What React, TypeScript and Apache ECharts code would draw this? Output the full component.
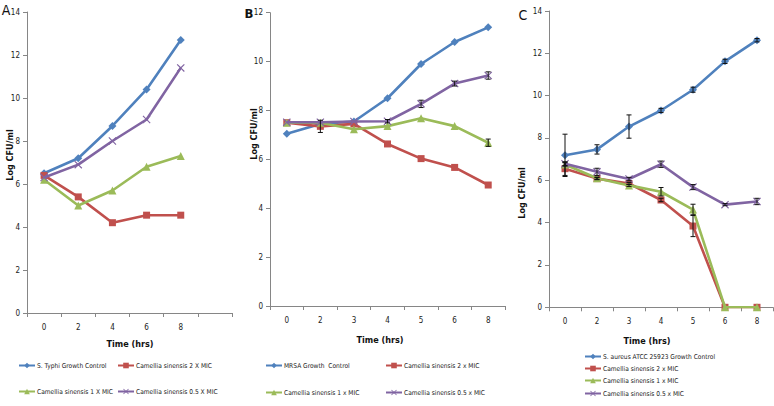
import React, { useEffect, useRef } from "react";
import * as echarts from "echarts";

// ---------- data ----------
const timesA = ["0", "2", "4", "6", "8", ""];
const typhiControl = [6.5, 7.2, 8.7, 10.4, 12.7];
const typhi2x = [6.4, 5.4, 4.2, 4.55, 4.55];
const typhi1x = [6.2, 5.0, 5.7, 6.8, 7.3];
const typhi05x = [6.3, 6.9, 8.0, 9.0, 11.4];

const timesB = ["0", "2", "3", "4", "5", "6", "8"];
const mrsaControl = [7.05, 7.45, 7.55, 8.5, 9.9, 10.8, 11.4];
const mrsa2x = [7.5, 7.35, 7.45, 6.63, 6.03, 5.67, 4.95];
const mrsa1x = [7.5, 7.5, 7.23, 7.36, 7.68, 7.36, 6.68];
const mrsa05x = [7.52, 7.52, 7.55, 7.56, 8.27, 9.1, 9.43];
const mrsaControlErr = [0, 0, 0, 0, 0, 0, 0];
const mrsa2xErr = [0, 0.25, 0, 0, 0, 0, 0];
const mrsa1xErr = [0, 0, 0, 0, 0, 0, 0.15];
const mrsa05xErr = [0, 0, 0, 0.07, 0.15, 0.1, 0.15];

const timesC = ["0", "2", "3", "4", "5", "6", "8"];
const saControl = [7.18, 7.46, 8.54, 9.3, 10.28, 11.62, 12.62];
const sa2x = [6.55, 6.08, 5.85, 5.07, 3.84, 0, 0];
const sa1x = [6.75, 6.1, 5.76, 5.46, 4.62, 0, 0];
const sa05x = [6.78, 6.4, 6.06, 6.76, 5.68, 4.85, 5.0];
const saControlErr = [1.0, 0.22, 0.55, 0.1, 0.12, 0.1, 0.08];
const sa2xErr = [0.32, 0.05, 0.05, 0.08, 0.5, 0, 0];
const sa1xErr = [0.08, 0.05, 0.05, 0.2, 0.25, 0, 0];
const sa05xErr = [0.08, 0.17, 0.08, 0.15, 0.12, 0.05, 0.15];

const namesA = [
  "S. Typhi Growth Control",
  "Camellia sinensis 2 X MIC",
  "Camellia sinensis 1 X MIC",
  "Camellia sinensis 0.5 X MIC",
];
const namesB = [
  "MRSA Growth  Control",
  "Camellia sinensis 2 x MIC",
  "Camellia sinensis 1 x MIC",
  "Camellia sinensis 0.5 x MIC",
];
const namesC = [
  "S. aureus ATCC 25923 Growth Control",
  "Camellia sinensis 2 x MIC",
  "Camellia sinensis 1 x MIC",
  "Camellia sinensis 0.5 x MIC",
];

// ---------- style ----------
const COLORS = ["#4F81BD", "#C0504D", "#9BBB59", "#8064A2"];
const XSYM =
  "path://M0,1 L1,0 L5,4 L9,0 L10,1 L6,5 L10,9 L9,10 L5,6 L1,10 L0,9 L4,5 Z";
const SYMBOLS = ["diamond", "rect", "triangle", XSYM];
const SYMSIZE = [8, 7, 8, 8];
const FONT = "'Liberation Sans Narrow', 'DejaVu Sans Condensed', 'Liberation Sans', sans-serif";
const AXIS_COLOR = "#868686";

function lineSeries(name: string, data: number[], k: number, idx: number) {
  return {
    type: "line",
    name,
    data,
    xAxisIndex: idx,
    yAxisIndex: idx,
    symbol: SYMBOLS[k],
    symbolSize: SYMSIZE[k],
    lineStyle: { color: COLORS[k], width: 2.6 },
    itemStyle: { color: COLORS[k] },
    z: 2 + k,
  };
}

function errSeries(vals: number[], errs: number[], idx: number) {
  const data: number[][] = [];
  vals.forEach((v, i) => {
    if (errs[i] > 0) data.push([i, v - errs[i], v + errs[i]]);
  });
  return {
    type: "custom",
    xAxisIndex: idx,
    yAxisIndex: idx,
    z: 10,
    silent: true,
    encode: { x: 0, y: [1, 2] },
    data,
    renderItem: (params: any, api: any) => {
      const x = api.value(0);
      const lo = api.coord([x, api.value(1)]);
      const hi = api.coord([x, api.value(2)]);
      const w = 2.5;
      const st = { stroke: "#111", lineWidth: 1 };
      return {
        type: "group",
        children: [
          { type: "line", shape: { x1: lo[0], y1: lo[1], x2: hi[0], y2: hi[1] }, style: st },
          { type: "line", shape: { x1: lo[0] - w, y1: lo[1], x2: lo[0] + w, y2: lo[1] }, style: st },
          { type: "line", shape: { x1: hi[0] - w, y1: hi[1], x2: hi[0] + w, y2: hi[1] }, style: st },
        ],
      };
    },
  };
}

function xAxis(cats: string[], idx: number) {
  return {
    type: "category",
    gridIndex: idx,
    data: cats,
    boundaryGap: true,
    axisLine: { lineStyle: { color: AXIS_COLOR, width: 1 } },
    axisTick: { show: true, length: 4, inside: false, lineStyle: { color: AXIS_COLOR } },
    axisLabel: { color: "#222", fontSize: 8, fontFamily: FONT, margin: 10 },
    splitLine: { show: false },
  };
}

function yAxis(max: number, idx: number) {
  return {
    type: "value",
    gridIndex: idx,
    min: 0,
    max,
    interval: 2,
    axisLine: { show: true, lineStyle: { color: AXIS_COLOR, width: 1 } },
    axisTick: { show: true, length: 4, lineStyle: { color: AXIS_COLOR } },
    axisLabel: { color: "#222", fontSize: 8, fontFamily: FONT, margin: 7 },
    splitLine: { show: false },
  };
}

function legendItem(name: string, left: number, top: number) {
  return {
    data: [name],
    left,
    top,
    padding: 0,
    itemWidth: 16,
    itemHeight: 7,
    itemGap: 0,
    selectedMode: false,
    textStyle: { fontSize: 6.6, fontFamily: FONT, color: "#222", padding: [0, 0, 0, -3] },
  };
}

function txt(text: string, x: number, y: number, size: number, bold: boolean, rot = 0) {
  return {
    type: "text",
    x,
    y,
    rotation: rot,
    style: {
      text,
      font: `${bold ? "bold " : ""}${size}px ${FONT}`,
      fill: "#111",
      textAlign: "center",
      textVerticalAlign: "middle",
    },
  };
}

export default function App() {
  const ref = useRef<HTMLDivElement>(null);
  useEffect(() => {
    if (!ref.current) return;
    const chart = echarts.init(ref.current, null, { renderer: "svg" });
    const option = {
      animation: false,
      backgroundColor: "#ffffff",
      grid: [
        { left: 27, top: 12, width: 205, height: 301 },
        { left: 270, top: 12.7, width: 235, height: 293.3 },
        { left: 549, top: 11, width: 224, height: 296.3 },
      ],
      xAxis: [xAxis(timesA, 0), xAxis(timesB, 1), xAxis(timesC, 2)],
      yAxis: [yAxis(14, 0), yAxis(12, 1), yAxis(14, 2)],
      legend: [
        legendItem(namesA[0], 18, 362),
        legendItem(namesA[1], 117, 362),
        legendItem(namesA[2], 18, 388),
        legendItem(namesA[3], 117, 388),
        legendItem(namesB[0], 265, 362),
        legendItem(namesB[1], 385, 362),
        legendItem(namesB[2], 265, 389),
        legendItem(namesB[3], 385, 389),
        legendItem(namesC[0], 584, 353),
        legendItem(namesC[1], 584, 365),
        legendItem(namesC[2], 584, 377),
        legendItem(namesC[3], 584, 390),
      ],
      graphic: [
        txt("A", 6, 10, 14, false),
        txt("B", 249, 13, 13, true),
        txt("C", 523, 15, 14, false),
        txt("Log CFU/ml", 10, 155, 9, true, Math.PI / 2),
        txt("Log CFU/ml", 254, 134, 9, true, Math.PI / 2),
        txt("Log CFU/ml", 522, 193, 9, true, Math.PI / 2),
        txt("Time (hrs)", 130, 344, 9, true),
        txt("Time (hrs)", 380, 340, 9, true),
        txt("Time (hrs)", 647, 341, 9, true),
      ],
      series: [
        lineSeries(namesA[0], typhiControl, 0, 0),
        lineSeries(namesA[1], typhi2x, 1, 0),
        lineSeries(namesA[2], typhi1x, 2, 0),
        lineSeries(namesA[3], typhi05x, 3, 0),
        lineSeries(namesB[0], mrsaControl, 0, 1),
        lineSeries(namesB[1], mrsa2x, 1, 1),
        lineSeries(namesB[2], mrsa1x, 2, 1),
        lineSeries(namesB[3], mrsa05x, 3, 1),
        lineSeries(namesC[0], saControl, 0, 2),
        lineSeries(namesC[1], sa2x, 1, 2),
        lineSeries(namesC[2], sa1x, 2, 2),
        lineSeries(namesC[3], sa05x, 3, 2),
        errSeries(mrsaControl, mrsaControlErr, 1),
        errSeries(mrsa2x, mrsa2xErr, 1),
        errSeries(mrsa1x, mrsa1xErr, 1),
        errSeries(mrsa05x, mrsa05xErr, 1),
        errSeries(saControl, saControlErr, 2),
        errSeries(sa2x, sa2xErr, 2),
        errSeries(sa1x, sa1xErr, 2),
        errSeries(sa05x, sa05xErr, 2),
      ],
    };
    chart.setOption(option as any);
    return () => chart.dispose();
  }, []);
  return (
    <div
      ref={ref}
      style={{ position: "fixed", left: 0, top: 0, width: 774, height: 406, background: "#fff" }}
    />
  );
}
